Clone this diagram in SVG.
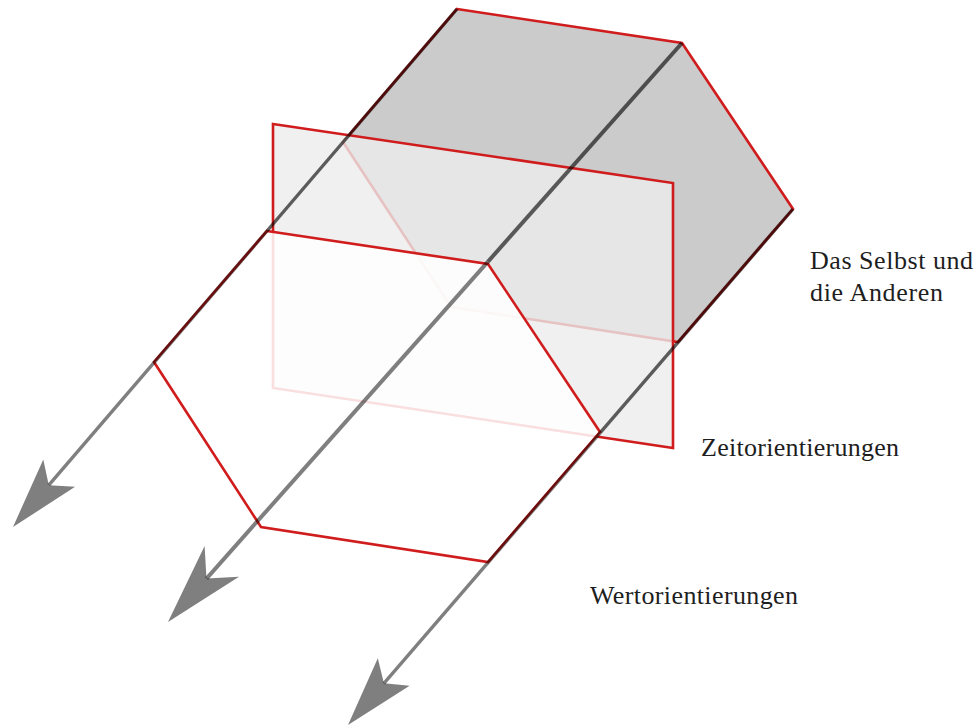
<svg xmlns="http://www.w3.org/2000/svg" width="977" height="726" viewBox="0 0 977 726">
<style>
.edge{stroke:#d01c1c;stroke-width:2.6;stroke-linejoin:miter;fill:none}
.lbl{font-family:"Liberation Serif","Times New Roman",serif;font-size:26px;fill:#1e1e1e}
.ln{stroke:#000;fill:none;stroke-linecap:butt}
</style>
<rect width="977" height="726" fill="#fff"/>
<g id="selbst-plane">
<polygon points="457,9 682,43 793,209 678,342 451,307 343,142" fill="#cbcbcb"/>
<polygon class="edge" points="457,9 682,43 793,209 678,342 451,307 343,142"/>
</g>
<g id="zeit-plane">
<polygon points="273,124 673,183 673,448 273,388" fill="#ececec" fill-opacity="0.8"/>
<polygon class="edge" stroke-width="2.2" points="273,124 673,183 673,448 273,388"/>
</g>
<g id="wert-plane">
<polygon points="267,231 488,264 600,432 488,562 261,527 154,362" fill="#fff" fill-opacity="0.86"/>
<polygon class="edge" points="267,231 488,264 600,432 488,562 261,527 154,362"/>
</g>
<g id="connectors">
<path class="ln" d="M457,9 L267,231" stroke-width="3.4" stroke-opacity="0.62"/>
<path class="ln" d="M267,231 L48.8,485.2" stroke-width="3.4" stroke-opacity="0.5"/>
<polygon points="13,527 43.3,459.4 48.8,485.2 75.1,486.8" fill="#000" fill-opacity="0.5"/>
<path class="ln" d="M682,43 L488,261.6" stroke-width="4" stroke-opacity="0.62"/>
<path class="ln" d="M488,261.6 L206.5,578.6" stroke-width="4" stroke-opacity="0.5"/>
<polygon points="168,622 204.6,546.1 206.5,578.6 239,576.7" fill="#000" fill-opacity="0.5"/>
<path class="ln" d="M793,209 L600.5,432.3" stroke-width="3.4" stroke-opacity="0.62"/>
<path class="ln" d="M600.5,432.3 L383.9,683.3" stroke-width="3.4" stroke-opacity="0.5"/>
<polygon points="348,725 377.8,658.3 383.9,683.3 409.6,685.7" fill="#000" fill-opacity="0.5"/>
</g>
<g id="labels">
<text class="lbl" x="810" y="269" textLength="163">Das Selbst und</text>
<text class="lbl" x="810" y="301" textLength="133">die Anderen</text>
<text class="lbl" x="701" y="456" textLength="198">Zeitorientierungen</text>
<text class="lbl" x="590" y="604" textLength="208">Wertorientierungen</text>
</g>
</svg>
